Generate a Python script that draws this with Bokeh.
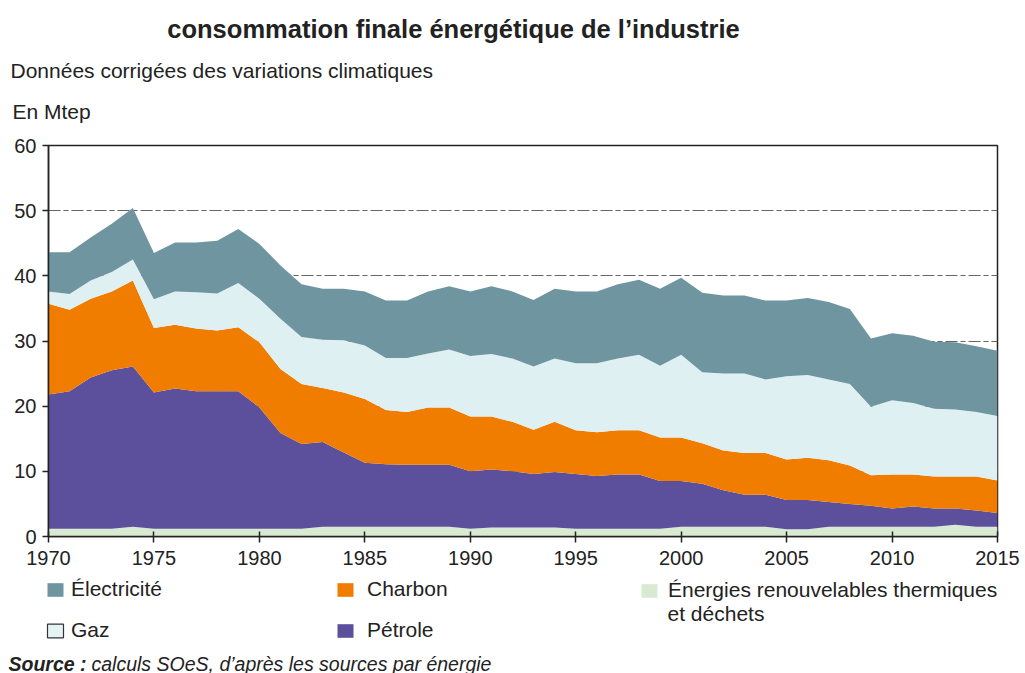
from bokeh.plotting import figure
from bokeh.layouts import column
from bokeh.models import ColumnDataSource, Range1d, FixedTicker, Label, Legend, LegendItem
from bokeh.embed import file_html
from bokeh.resources import INLINE

years = list(range(1970, 2016))

renouvelables = [1.2, 1.2, 1.2, 1.2, 1.5,
                 1.2, 1.2, 1.2, 1.2, 1.2,
                 1.2, 1.2, 1.2, 1.5, 1.5,
                 1.5, 1.5, 1.5, 1.5, 1.5,
                 1.2, 1.4, 1.4, 1.4, 1.4,
                 1.2, 1.2, 1.2, 1.2, 1.2,
                 1.5, 1.5, 1.5, 1.5, 1.5,
                 1.1, 1.1, 1.5, 1.5, 1.5,
                 1.5, 1.5, 1.5, 1.8, 1.5,
                 1.5]
petrole = [20.6, 21.1, 23.2, 24.3, 24.6,
           20.9, 21.5, 21.1, 21.1, 21.1,
           18.6, 14.7, 13.0, 13.0, 11.4,
           9.8, 9.6, 9.5, 9.5, 9.5,
           8.8, 8.9, 8.6, 8.2, 8.5,
           8.4, 8.1, 8.3, 8.3, 7.3,
           7.0, 6.6, 5.6, 4.9, 4.9,
           4.5, 4.5, 3.8, 3.5, 3.2,
           2.8, 3.1, 2.8, 2.5, 2.5,
           2.1]
charbon = [13.9, 12.5, 12.1, 12.1, 13.2,
           9.9, 9.8, 9.6, 9.3, 9.8,
           10.0, 9.8, 9.2, 8.3, 9.2,
           9.8, 8.3, 8.1, 8.8, 8.8,
           8.4, 8.1, 7.6, 6.8, 7.7,
           6.7, 6.7, 6.8, 6.8, 6.7,
           6.7, 6.2, 6.1, 6.4, 6.4,
           6.2, 6.5, 6.4, 5.9, 4.7,
           5.2, 4.9, 4.9, 4.9, 5.2,
           5.0]
gaz = [1.9, 2.4, 2.8, 3.0, 3.2,
       4.4, 5.1, 5.6, 5.7, 6.8,
       6.7, 7.7, 7.2, 7.4, 8.0,
       8.2, 8.0, 8.3, 8.3, 8.9,
       9.3, 9.6, 9.7, 9.7, 9.7,
       10.3, 10.6, 11.0, 11.6, 11.0,
       12.7, 10.9, 11.8, 12.2, 11.3,
       12.8, 12.7, 12.4, 12.5, 10.5,
       11.4, 11.0, 10.4, 10.3, 9.9,
       9.9]
electricite = [6.0, 6.4, 6.6, 7.4, 7.9,
               7.1, 7.5, 7.6, 8.1, 8.3,
               8.4, 8.2, 8.1, 7.8, 7.9,
               8.3, 8.8, 8.8, 9.5, 9.7,
               9.9, 10.4, 10.3, 10.2, 10.7,
               11.0, 11.0, 11.4, 11.5, 11.8,
               11.8, 12.2, 12.0, 12.0, 12.1,
               11.6, 11.8, 11.9, 11.5, 10.5,
               10.3, 10.3, 10.3, 10.3, 10.1,
               10.0]

x_ticks = list(range(1970, 2016, 5))
y_ticks = [0, 10, 20, 30, 40, 50, 60]

series_names = ["renouvelables", "petrole", "charbon", "gaz", "electricite"]
colors = ["#d8ead2", "#5c4f9b", "#f07d00", "#dff0f3", "#6f95a0"]

FONT = "Liberation Sans"
TXT = "#222222"
W = 1025
NAN = float("nan")


def no_frame_align(f):
    if "frame_align" in f.properties():
        f.frame_align = False


def blank_fig(h):
    f = figure(width=W, height=h, output_backend="svg", toolbar_location=None,
               x_axis_type=None, y_axis_type=None, title=None,
               x_range=Range1d(0, 1), y_range=Range1d(0, 1),
               min_border=0, min_border_left=0, min_border_right=0,
               min_border_top=0, min_border_bottom=0)
    f.outline_line_color = None
    f.background_fill_color = "white"
    f.border_fill_color = "white"
    f.grid.visible = False
    no_frame_align(f)
    return f


def add_text(f, x, y, text, size="21px", style="normal", align="left"):
    f.add_layout(Label(x=x, y=y, x_units="screen", y_units="screen", text=text,
                       text_font=FONT, text_font_size=size, text_font_style=style,
                       text_color=TXT, text_align=align, text_baseline="middle"))


# ---------- header ----------
top = blank_fig(125)
add_text(top, 453, 97, "consommation finale énergétique de l’industrie",
         size="25.5px", style="bold", align="center")
add_text(top, 10, 55, "Données corrigées des variations climatiques")
add_text(top, 12, 14, "En Mtep")

# ---------- chart ----------
source = ColumnDataSource(dict(x=years, renouvelables=renouvelables, petrole=petrole,
                               charbon=charbon, gaz=gaz, electricite=electricite))

p = figure(width=W, height=450, output_backend="svg", toolbar_location=None, title=None,
           x_range=Range1d(1970, 2015), y_range=Range1d(0, 60),
           min_border_left=48, min_border_right=28, min_border_top=20, min_border_bottom=39)
p.background_fill_color = "white"
p.border_fill_color = "white"
p.outline_line_color = "#222222"
p.outline_line_width = 1.5
no_frame_align(p)

p.varea_stack(stackers=series_names, x="x", color=colors, source=source)

p.xaxis.ticker = FixedTicker(ticks=x_ticks)
p.yaxis.ticker = FixedTicker(ticks=y_ticks)
for ax in (p.xaxis[0], p.yaxis[0]):
    ax.axis_line_color = "#222222"
    ax.axis_line_width = 1.5
    ax.major_tick_line_color = "#222222"
    ax.major_tick_line_width = 1.5
    ax.minor_tick_line_color = None
    ax.major_label_text_font = FONT
    ax.major_label_text_font_size = "20px"
    ax.major_label_text_color = TXT
p.xaxis.major_tick_in = 5
p.xaxis.major_tick_out = 6
p.xaxis.major_label_standoff = 8
p.yaxis.major_tick_in = 0
p.yaxis.major_tick_out = 6
p.yaxis.major_label_standoff = 6

p.xgrid.grid_line_color = None
p.ygrid.grid_line_color = "#666666"
p.ygrid.grid_line_dash = "12 3 5 3"
p.ygrid.grid_line_width = 1

# ---------- legend + source ----------
bot = blank_fig(98)
legend_fill = {"electricite": "#6f95a0", "gaz": "#e6f3f3", "charbon": "#f07d00",
               "petrole": "#5c4f9b", "renouvelables": "#d8ead2"}
sw = {}
for name in ["electricite", "gaz", "charbon", "petrole", "renouvelables"]:
    # legend-only renderer (no visible mark), used for the swatch
    sw[name] = bot.quad(left=[NAN], right=[NAN], top=[NAN], bottom=[NAN],
                        fill_color=legend_fill[name],
                        line_color="#333333" if name == "gaz" else None,
                        line_width=1.2)


def make_legend(items, loc, standoff):
    lg = Legend(items=items, location=loc, orientation="vertical",
                glyph_width=20, glyph_height=17, label_height=22, spacing=17,
                label_standoff=standoff, padding=0, margin=0,
                border_line_color=None, background_fill_alpha=0,
                label_text_font=FONT, label_text_font_size="21px",
                label_text_color=TXT)
    bot.add_layout(lg)


make_legend([LegendItem(label="Électricité", renderers=[sw["electricite"]]),
             LegendItem(label="Gaz", renderers=[sw["gaz"]])], (45, 31), 6)
make_legend([LegendItem(label="Charbon", renderers=[sw["charbon"]]),
             LegendItem(label="Pétrole", renderers=[sw["petrole"]])], (335, 31), 12)
make_legend([LegendItem(label="Énergies renouvelables thermiques",
                        renderers=[sw["renouvelables"]])], (639, 71), 9)
add_text(bot, 667, 60, "et déchets")
add_text(bot, 8, 10, "Source :", size="19.5px", style="bold italic")
add_text(bot, 91, 10, "calculs SOeS, d’après les sources par énergie", size="19.5px",
         style="italic")

page = column(top, p, bot, spacing=0)
open("out.html", "w").write(file_html(page, INLINE))
